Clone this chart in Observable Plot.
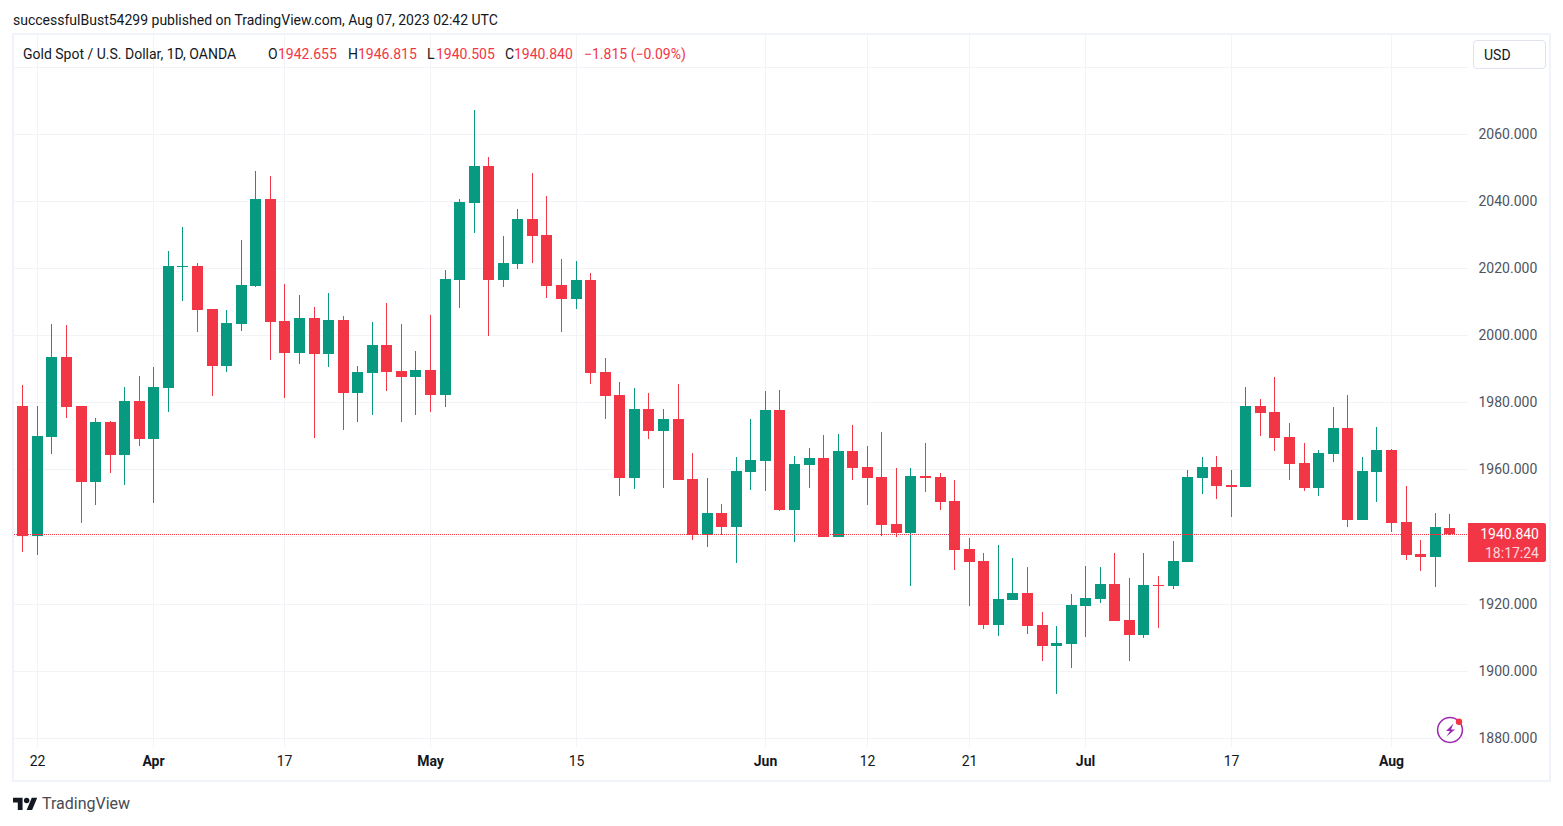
<!DOCTYPE html>
<html>
<head>
<meta charset="utf-8">
<script src="https://cdn.jsdelivr.net/npm/d3@7"></script>
<script src="https://cdn.jsdelivr.net/npm/@observablehq/plot@0.6"></script>
<style>
html,body{margin:0;padding:0;background:#fff;overflow:hidden}
#page{position:relative;width:1563px;height:826px;font-family:Roboto,sans-serif;color:#131722;font-size:14px}
#page svg{display:block}
.abs{position:absolute;white-space:nowrap;line-height:18px}
.red{color:#f23645}
</style>
</head>
<body>
<div id="page"></div>
<script>
const opens=[1978.9,1940.2,1969.7,1993.5,1978.9,1956.2,1974.1,1964.3,1980.4,1969.1,1984.3,2020.4,2020.7,2007.9,1990.8,2003.4,2014.7,2040.7,2004.3,1994.7,2005.2,1994.4,2004.6,1982.8,1988.8,1997.1,1989.4,1987.6,1989.7,1982.2,2016.5,2039.5,2050.5,2016.5,2021.3,2034.7,2030.0,2015.0,2010.8,2016.5,1989.1,1982.2,1957.4,1978.0,1971.4,1975.0,1957.1,1940.4,1947.0,1942.8,1959.2,1962.5,1977.7,1947.9,1961.3,1963.4,1939.8,1965.5,1960.7,1957.7,1943.7,1941.0,1958.0,1957.7,1950.5,1936.2,1932.6,1913.5,1921.0,1923.1,1913.5,1907.3,1907.9,1919.2,1921.3,1925.8,1915.0,1910.5,1925.5,1925.2,1932.3,1957.4,1960.7,1955.3,1954.7,1978.9,1977.1,1969.7,1961.9,1954.4,1964.6,1972.3,1944.9,1959.2,1965.8,1944.3,1934.7,1933.8,1942.655];
const highs=[1985.2,1978.9,2003.4,2003.1,1978.9,1975.3,1974.4,1984.6,1987.9,1990.5,2025.2,2032.3,2021.6,2007.9,2007.6,2028.5,2049.1,2047.6,2015.3,2012.0,2008.5,2012.6,2005.8,1990.8,2004.0,2009.7,2003.4,1995.3,2006.1,2019.5,2040.7,2067.3,2053.2,2029.7,2037.7,2048.5,2041.6,2022.8,2022.2,2018.6,1993.2,1986.1,1984.3,1982.8,1978.0,1985.5,1964.9,1957.4,1949.7,1963.7,1975.0,1983.4,1983.7,1964.0,1966.4,1970.2,1970.5,1973.2,1967.0,1971.1,1960.4,1960.4,1967.9,1958.9,1956.8,1939.5,1935.0,1937.4,1933.5,1930.8,1917.4,1913.2,1922.8,1931.1,1930.8,1935.0,1927.6,1935.0,1928.2,1938.6,1959.8,1963.7,1964.0,1959.8,1984.6,1981.0,1987.6,1973.8,1967.9,1965.8,1978.6,1982.2,1963.7,1972.6,1966.1,1955.0,1938.9,1947.0,1946.815];
const lows=[1935.4,1934.5,1964.6,1975.3,1944.1,1949.4,1958.9,1955.3,1967.0,1950.0,1977.1,2010.2,2001.0,1981.9,1989.1,2001.3,2014.4,1992.6,1981.3,1991.4,1969.4,1990.5,1971.7,1974.1,1976.2,1983.4,1974.1,1976.2,1977.1,1978.6,2008.2,2030.5,1999.8,2014.4,2019.8,2021.6,2011.1,2001.0,2007.9,1985.5,1975.0,1952.0,1954.1,1969.1,1954.4,1956.8,1938.9,1936.8,1940.4,1932.0,1953.8,1953.5,1947.6,1938.3,1954.4,1939.8,1939.8,1956.8,1949.4,1940.1,1939.8,1925.2,1953.2,1947.9,1930.0,1919.2,1912.3,1910.2,1921.0,1910.8,1902.8,1892.9,1900.7,1910.0,1920.1,1914.7,1902.8,1909.7,1912.6,1924.3,1932.3,1952.6,1951.1,1945.8,1954.7,1970.0,1965.5,1956.8,1953.5,1952.0,1962.2,1942.8,1944.9,1950.2,1941.3,1932.9,1929.7,1924.9,1940.505];
const closes=[1940.2,1970.0,1993.5,1978.6,1956.2,1974.1,1964.3,1980.4,1969.1,1984.6,2020.7,2020.7,2007.6,1990.8,2003.7,2015.0,2040.7,2004.0,1994.7,2005.2,1994.4,2004.6,1982.8,1989.1,1997.1,1989.1,1987.6,1989.7,1982.2,2016.8,2039.8,2050.5,2016.5,2021.6,2034.7,2029.7,2014.7,2010.8,2016.5,1988.8,1981.9,1957.4,1978.0,1971.4,1975.0,1956.8,1940.4,1947.0,1942.8,1959.5,1962.8,1977.7,1947.9,1961.6,1963.4,1939.8,1965.5,1960.4,1957.4,1943.4,1941.0,1958.0,1957.4,1950.2,1935.9,1932.3,1913.5,1921.3,1923.1,1913.2,1907.3,1908.2,1919.5,1921.6,1925.8,1914.7,1910.5,1925.5,1925.2,1932.6,1957.7,1960.7,1955.0,1954.7,1978.9,1976.8,1969.4,1961.6,1954.4,1964.9,1972.3,1944.9,1959.5,1965.8,1944.0,1934.4,1933.8,1942.8,1940.840];

const priceTicks=[1880,1900,1920,1940,1960,1980,2000,2020,2040,2060];
const priceLabels=[1880,1900,1920,1960,1980,2000,2020,2040,2060];
const extraGrid=[2080];
const dayTicks=[1,18,38,58,65,83];
const dayLabels=["22","17","15","12","21","17"];
const monthTicks=[9,28,51,73,94];
const monthLabels=["Apr","May","Jun","Jul","Aug"];
const lastPrice=1940.840;
const countdown="18:17:24";
const publishLine="successfulBust54299 published on TradingView.com, Aug 07, 2023 02:42 UTC";
const symbolTitle="Gold Spot / U.S. Dollar, 1D, OANDA";
const legendParts=[["O",268,0],["1942.655",278,1],["H",348,0],["1946.815",358,1],["L",427,0],["1940.505",436,1],["C",505,0],["1940.840",514,1],["−1.815 (−0.09%)",584,1]];

const RED="#f23645",GREEN="#089981",GRID="#f2f3f6";
const FONT="Roboto, sans-serif";
const rows=opens.map((o,i)=>({i,o,h:highs[i],l:lows[i],c:closes[i]}));
const up=rows.filter(d=>d.c>=d.o), down=rows.filter(d=>d.c<d.o);
const candle=(data,color)=>[
  Plot.ruleX(data,{x:"i",y1:"l",y2:"h",stroke:color,strokeWidth:1}),
  Plot.ruleX(data,{x:"i",y1:"o",y2:"c",stroke:color,strokeWidth:11})
];
const chart=Plot.plot({
  width:1563,height:826,
  marginLeft:14,marginRight:95,marginTop:35,marginBottom:79,
  style:{background:"transparent",fontFamily:FONT,fontSize:"14px",overflow:"visible"},
  x:{domain:[-0.57,99.29],round:true,axis:null},
  y:{domain:[1877.2,2089.6],round:true,axis:null},
  marks:[
    Plot.ruleX([...dayTicks,...monthTicks],{stroke:GRID,strokeWidth:1}),
    Plot.ruleY([...priceTicks,...extraGrid],{stroke:GRID,strokeWidth:1}),
    ...candle(up,GREEN),
    ...candle(down,RED),
    Plot.ruleY([lastPrice],{stroke:RED,strokeWidth:1,strokeDasharray:"1 1"}),
    Plot.axisY(priceLabels,{anchor:"right",tickSize:0,tickPadding:10,label:null,tickFormat:d=>d3.format(".3f")(d),fill:"#50535e",fontSize:14}),
    Plot.text(dayTicks,{x:d=>d,text:(d,i)=>dayLabels[i],frameAnchor:"bottom",dy:18,fill:"#131722",fontSize:14}),
    Plot.text(monthTicks,{x:d=>d,text:(d,i)=>monthLabels[i],frameAnchor:"bottom",dy:18,fill:"#131722",fontSize:14,fontWeight:"bold"})
  ]
});
const page=document.getElementById("page");
page.appendChild(chart);
const el=(css,text,cls)=>{const d=document.createElement("div");d.className="abs "+(cls||"");d.style.cssText=css;if(text!=null)d.textContent=text;page.appendChild(d);return d;};
el("left:12px;top:33px;width:1539px;height:749px;border:2px solid #f0f3fa;box-sizing:border-box;","");
el("left:13px;top:11px;",publishLine);
el("left:23px;top:45px;",symbolTitle);
legendParts.forEach(([t,x,r])=>el(`left:${x}px;top:45px;`,t,r?"red":""));
el("left:1473px;top:40px;width:73px;height:29px;border:1px solid #e0e3eb;border-radius:4px;box-sizing:border-box;background:#fff;padding:5px 0 0 10px;","USD");
const py=chart.scale("y").apply(lastPrice);
const tag=el(`left:1468px;top:${Math.round(py)-11}px;width:78px;height:39px;background:${RED};border-radius:0 2px 2px 0;color:#fff;text-align:right;`,"");
tag.innerHTML=`<div style="padding:2px 7px 0 0;height:18px">${lastPrice.toFixed(3)}</div><div style="padding:1px 7px 0 0;opacity:.8">${countdown}</div>`;
const icon=document.createElementNS("http://www.w3.org/2000/svg","svg");
icon.setAttribute("viewBox","0 0 30 30");icon.setAttribute("width","30");icon.setAttribute("height","30");
icon.style.cssText="position:absolute;left:1435px;top:715px";
icon.innerHTML=`<circle cx="15" cy="15" r="12.4" fill="#fff" stroke="#9c27b0" stroke-width="1.5"/><path d="M18.5 8.5 L11 16 H15 L11.5 21.5 L20 14.5 H16 Z" fill="#9c27b0"/><circle cx="24" cy="6.8" r="3.2" fill="${RED}"/>`;
page.appendChild(icon);
const logo=document.createElementNS("http://www.w3.org/2000/svg","svg");
logo.setAttribute("viewBox","0 0 36 28");logo.setAttribute("width","24.6");logo.setAttribute("height","19.1");
logo.style.cssText="position:absolute;left:12.7px;top:795px";
logo.innerHTML=`<path d="M14 22H7V11H0V4h14v18zM28 22h-8l7.5-18h8L28 22z" fill="#131722"/><circle cx="20" cy="8" r="4" fill="#131722"/>`;
page.appendChild(logo);
el("left:42px;top:795px;font-size:16px;color:#4a4a50;","TradingView");
</script>
</body>
</html>
